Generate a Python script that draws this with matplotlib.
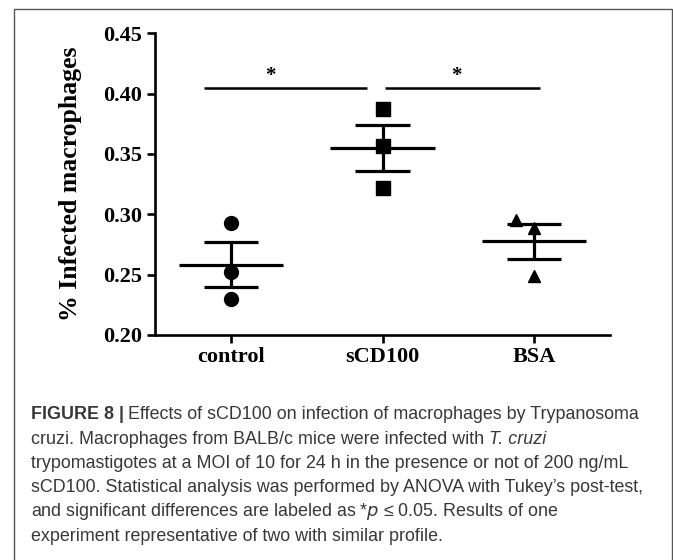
import matplotlib
matplotlib.use("Agg")
import matplotlib.pyplot as plt
import numpy as np
from matplotlib.patches import Rectangle

# values
groups = ["control", "sCD100", "BSA"]
control_pts = [0.293, 0.2525, 0.2296]
scd100_pts = [0.3876, 0.3567, 0.3216]
bsa_pts = [0.2953, 0.2884, 0.2489]
sig_level = 0.4045
sig_pairs = [(0, 1), (1, 2)]

points = [control_pts, scd100_pts, bsa_pts]
markers = ["o", "s", "^"]
marker_sizes = [10, 10, 9]
jitter = [[0, 0, 0], [0, 0, 0], [-0.12, 0, 0]]

W, H = 673, 560
fig = plt.figure(figsize=(W / 100, H / 100), dpi=100)

# outer frame of the figure panel
fig.patches.append(Rectangle((13.5 / W, -0.05), (671.5 - 13.5) / W, 1.05 - 8.5 / H,
                             transform=fig.transFigure, fill=False,
                             edgecolor="#555555", linewidth=1.0))

ax = fig.add_axes([155 / W, 1 - 335 / H, (610 - 155) / W, (335 - 33.3) / H])
serif = "Liberation Serif"

for i, vals in enumerate(points):
    vals = np.array(vals)
    xs = i + np.array(jitter[i])
    ax.plot(xs, vals, linestyle="none", marker=markers[i], markersize=marker_sizes[i],
            color="black", zorder=3)
    m = vals.mean()
    sem = vals.std(ddof=1) / np.sqrt(len(vals))
    ax.hlines(m, i - 0.345, i + 0.345, color="black", linewidth=2.3, zorder=4)
    ax.vlines(i, m - sem, m + sem, color="black", linewidth=2.3, zorder=4)
    ax.hlines([m - sem, m + sem], i - 0.18, i + 0.18, color="black", linewidth=2.3, zorder=4)

# significance bars
bar_ext = [(-0.18, 0.90), (1.015, 2.04)]
star_x = [0.26, 1.49]
for (a, b), sx in zip(bar_ext, star_x):
    ax.hlines(sig_level, a, b, color="black", linewidth=1.8)
    ax.text(sx, sig_level + 0.0015, "*", ha="center", va="bottom",
            fontsize=15, fontweight="bold", family=serif)

ax.set_xlim(-0.5, 2.5)
ax.set_ylim(0.20, 0.45)
ax.set_yticks([0.20, 0.25, 0.30, 0.35, 0.40, 0.45])
ax.set_yticklabels(["%.2f" % v for v in [0.20, 0.25, 0.30, 0.35, 0.40, 0.45]])
ax.set_xticks(range(len(groups)))
ax.set_xticklabels(groups)

for lab in ax.get_xticklabels() + ax.get_yticklabels():
    lab.set_fontfamily(serif)
    lab.set_fontweight("bold")
    lab.set_fontsize(16)

ax.spines["top"].set_visible(False)
ax.spines["right"].set_visible(False)
for s in ["left", "bottom"]:
    ax.spines[s].set_linewidth(1.9)
ax.tick_params(axis="both", width=1.9, length=6, pad=3, color="black")

ax.set_ylabel("% Infected macrophages", fontfamily=serif, fontweight="bold", fontsize=18.5)
ax.yaxis.set_label_coords(-0.16, 0.5)

# caption
cap = "#383838"
sans = "Liberation Sans"
fs = 12.9
x0 = 31 / W
lines_y = [419, 443.5, 468, 492, 516.5, 541]

def y_of(px):
    return 1 - px / H

t = fig.text(x0, y_of(lines_y[0]), "FIGURE 8 |", fontsize=fs, fontweight="bold",
             family=sans, color=cap, va="baseline")
fig.canvas.draw()
r = fig.canvas.get_renderer()
bb = t.get_window_extent(r)
fig.text(bb.x1 / W + 4 / W, y_of(lines_y[0]),
         "Effects of sCD100 on infection of macrophages by Trypanosoma",
         fontsize=fs, family=sans, color=cap, va="baseline")

t2 = fig.text(x0, y_of(lines_y[1]), "cruzi. Macrophages from BALB/c mice were infected with ",
              fontsize=fs, family=sans, color=cap, va="baseline")
bb2 = t2.get_window_extent(r)
fig.text(bb2.x1 / W, y_of(lines_y[1]), "T. cruzi", fontsize=fs, family=sans,
         style="italic", color=cap, va="baseline")

fig.text(x0, y_of(lines_y[2]),
         "trypomastigotes at a MOI of 10 for 24 h in the presence or not of 200 ng/mL",
         fontsize=fs, family=sans, color=cap, va="baseline")
fig.text(x0, y_of(lines_y[3]),
         "sCD100. Statistical analysis was performed by ANOVA with Tukey\u2019s post-test,",
         fontsize=fs, family=sans, color=cap, va="baseline")
fig.text(x0, y_of(lines_y[4]),
         "and significant differences are labeled as *$\\it{p}$ \u2264 0.05. Results of one",
         fontsize=fs, family=sans, color=cap, va="baseline")
fig.text(x0, y_of(lines_y[5]),
         "experiment representative of two with similar profile.",
         fontsize=fs, family=sans, color=cap, va="baseline")

fig.savefig("out.png", dpi=100)
